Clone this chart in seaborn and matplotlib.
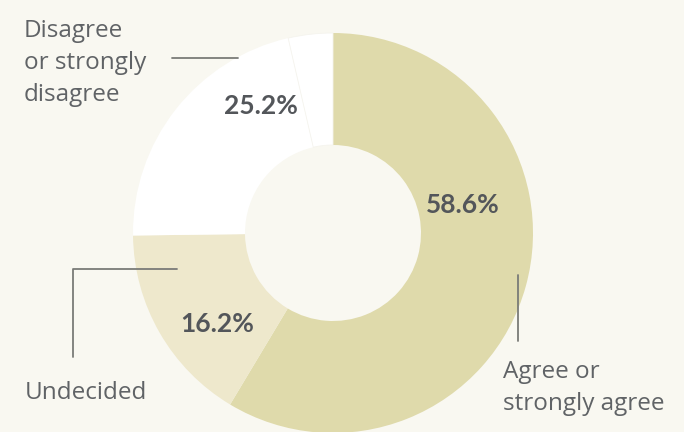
import matplotlib
matplotlib.use("Agg")
import matplotlib.pyplot as plt
import seaborn as sns

# Survey response shares (percent)
categories = ["Agree or\nstrongly agree", "Undecided", "Disagree\nor strongly\ndisagree"]
shares = [58.6, 16.2, 25.2]
# The disagree share is made up of "disagree" and "strongly disagree"
disagree_parts = [21.6, 3.6]
pct_labels = ["58.6%", "16.2%", "25.2%"]

sns.set_theme(style="white")
plt.rcParams["font.family"] = ["Lato", "DejaVu Sans"]

BG = "#f9f8f1"
colors = ["#dfdaab", "#eee8cc", "#ffffff", "#ffffff"]

fig = plt.figure(figsize=(6.84, 4.32), dpi=100, facecolor=BG)
ax = fig.add_axes([0, 0, 1, 1])
ax.set_facecolor(BG)

H = 432
cx, cy, R = 333, H - 233, 200
values = shares[:2] + disagree_parts
wedges, _ = ax.pie(values, colors=colors, startangle=90, counterclock=False,
                   radius=R, center=(cx, cy), frame=True,
                   wedgeprops=dict(width=R * 0.56, linewidth=0))
# faint divider between the two disagree sub-segments
wedges[3].set_edgecolor("#f5f4ee")
wedges[3].set_linewidth(0.6)
ax.set_xlim(0, 684)
ax.set_ylim(0, 432)
ax.set_aspect("equal")
ax.axis("off")

txt_dark = "#53565a"
txt_grey = "#606366"
line_c = "#7a7b78"
label_font = ["Open Sans", "Lato", "DejaVu Sans"]

# percentage labels
pct_pos = [(463, 205), (217, 324), (261, 106)]
for lab, (x, y) in zip(pct_labels, pct_pos):
    ax.text(x, H - y, lab, ha="center", va="center", fontsize=19,
            fontweight="bold", color=txt_dark)

# category labels
ax.text(503, H - 388, categories[0], ha="left", va="center", fontsize=17.5,
        color=txt_grey, linespacing=1.45, family=label_font)
ax.text(25, H - 393, categories[1], ha="left", va="center", fontsize=17.5,
        color=txt_grey, family=label_font)
ax.text(24, H - 63, categories[2], ha="left", va="center", fontsize=17.5,
        color=txt_grey, linespacing=1.45, family=label_font)

# leader lines
ax.plot([518, 518], [H - 275, H - 341], color=line_c, lw=1.3)
ax.plot([73, 73, 177], [H - 357, H - 269, H - 269], color=line_c, lw=1.3)
ax.plot([172, 238], [H - 58, H - 58], color=line_c, lw=1.3)

fig.savefig("out.png", dpi=100, facecolor=BG)
